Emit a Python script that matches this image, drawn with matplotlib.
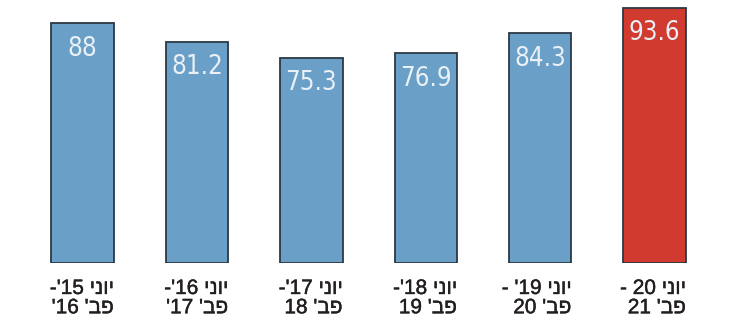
import matplotlib
matplotlib.use("Agg")
import matplotlib.pyplot as plt
import matplotlib.transforms as mtransforms
import matplotlib.patheffects as pe

# labels typed in visual (left-to-right) order, matplotlib has no bidi
labels = ["-'15 ינוי\n'16 'בפ",
          "-'16 ינוי\n'17 'בפ",
          "-'17 ינוי\n18 'בפ",
          "-'18 ינוי\n19 'בפ",
          "- '19 ינוי\n20 'בפ",
          "- 20 ינוי\n21 'בפ"]
values = [88, 81.2, 75.3, 76.9, 84.3, 93.6]
value_text = ["88", "81.2", "75.3", "76.9", "84.3", "93.6"]

blue = "#6a9fc8"
red = "#d13a2f"
colors = [blue] * 5 + [red]

dpi = 100
fig = plt.figure(figsize=(7.39, 3.22), dpi=dpi)
ax = fig.add_axes([0.0342, 0.1832, 0.929, 0.813])

x = list(range(len(values)))
w = 0.545
ax.bar(x, values, width=w, color=colors, edgecolor="#2b3844", linewidth=1.3)

ax.set_xlim(-0.5, 5.5)
ax.set_ylim(0, 96)
ax.axis("off")

off = mtransforms.offset_copy(ax.transData, fig=fig, x=0, y=-9, units="points")
for xi, v, t in zip(x, values, value_text):
    ax.text(xi, v, t, transform=off, ha="center", va="top", color="#eaf1f6",
            fontsize=18.5, family="DejaVu Sans", fontstretch="condensed")

lab = mtransforms.offset_copy(ax.transData, fig=fig, x=0, y=-11.5, units="points")
for xi, t in zip(x, labels):
    ax.text(xi + w / 2, 0, t, transform=lab, ha="right", va="top",
            multialignment="right", fontsize=15, color="#231f20",
            family=["Liberation Sans", "DejaVu Sans"], linespacing=1.02,
            path_effects=[pe.withStroke(linewidth=0.3, foreground="#231f20")])

fig.savefig("out.png", dpi=dpi)
